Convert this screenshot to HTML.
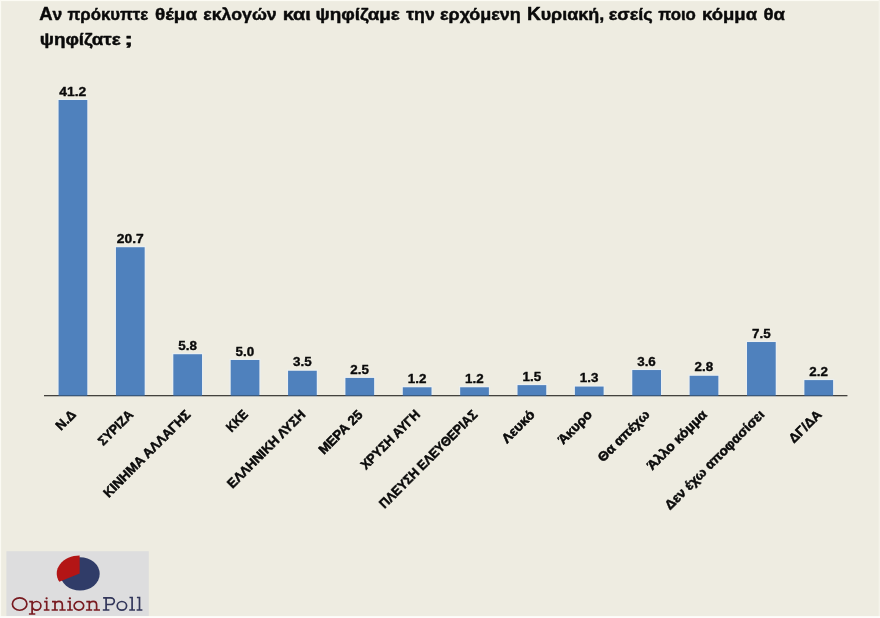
<!DOCTYPE html>
<html lang="el"><head><meta charset="utf-8"><title>OpinionPoll</title>
<style>html,body{margin:0;padding:0;background:#EEECE1;}body{width:880px;height:618px;overflow:hidden;position:relative;font-family:"Liberation Sans",sans-serif;}
svg{position:absolute;left:0;top:0;display:block;will-change:transform;opacity:0.999;filter:blur(0.4px)}text{font-family:"Liberation Sans",sans-serif;font-weight:bold;fill:#0a0a0a;stroke:#0a0a0a;stroke-width:0.36px;stroke-linejoin:round}
.xl{stroke-width:0.5px}.tt{stroke-width:0.45px}
</style></head><body>
<svg width="880" height="618" viewBox="0 0 880 618">
<rect x="0" y="0" width="880" height="618" fill="#EEECE1"/>
<text class="tt" x="39.20" y="19.5" font-size="17.4" textLength="23.12" lengthAdjust="spacingAndGlyphs"><tspan font-size="18.44">Α</tspan>ν</text>
<text class="tt" x="67.46" y="19.5" font-size="17.4" textLength="80.83" lengthAdjust="spacingAndGlyphs">πρόκυπτε</text>
<text class="tt" x="155.07" y="19.5" font-size="17.4" textLength="42.04" lengthAdjust="spacingAndGlyphs">θέμα</text>
<text class="tt" x="203.34" y="19.5" font-size="17.4" textLength="73.38" lengthAdjust="spacingAndGlyphs">εκλογών</text>
<text class="tt" x="282.69" y="19.5" font-size="17.4" textLength="28.14" lengthAdjust="spacingAndGlyphs">και</text>
<text class="tt" x="315.45" y="19.5" font-size="17.4" textLength="84.40" lengthAdjust="spacingAndGlyphs">ψηφίζαμε</text>
<text class="tt" x="406.20" y="19.5" font-size="17.4" textLength="28.53" lengthAdjust="spacingAndGlyphs">την</text>
<text class="tt" x="439.99" y="19.5" font-size="17.4" textLength="80.83" lengthAdjust="spacingAndGlyphs">ερχόμενη</text>
<text class="tt" x="526.92" y="19.5" font-size="17.4" textLength="77.32" lengthAdjust="spacingAndGlyphs"><tspan font-size="18.44">Κ</tspan>υριακή,</text>
<text class="tt" x="608.74" y="19.5" font-size="17.4" textLength="44.06" lengthAdjust="spacingAndGlyphs">εσείς</text>
<text class="tt" x="658.26" y="19.5" font-size="17.4" textLength="37.63" lengthAdjust="spacingAndGlyphs">ποιο</text>
<text class="tt" x="702.05" y="19.5" font-size="17.4" textLength="55.01" lengthAdjust="spacingAndGlyphs">κόμμα</text>
<text class="tt" x="763.46" y="19.5" font-size="17.4" textLength="21.44" lengthAdjust="spacingAndGlyphs">θα</text>
<text class="tt" x="39.70" y="45.0" font-size="17.4" textLength="80.97" lengthAdjust="spacingAndGlyphs">ψηφίζατε</text>
<text class="tt" x="124.33" y="45.0" font-size="17.4" textLength="8.88" lengthAdjust="spacingAndGlyphs">;</text>
<rect x="57.38" y="98.80" width="31.10" height="298.10" fill="#EAF0F4" opacity="0.8"/>
<rect x="114.76" y="246.03" width="31.10" height="150.87" fill="#EAF0F4" opacity="0.8"/>
<rect x="172.12" y="353.04" width="31.10" height="43.86" fill="#EAF0F4" opacity="0.8"/>
<rect x="229.50" y="358.79" width="31.10" height="38.11" fill="#EAF0F4" opacity="0.8"/>
<rect x="286.86" y="369.56" width="31.10" height="27.34" fill="#EAF0F4" opacity="0.8"/>
<rect x="344.23" y="376.75" width="31.10" height="20.15" fill="#EAF0F4" opacity="0.8"/>
<rect x="401.60" y="386.08" width="31.10" height="10.82" fill="#EAF0F4" opacity="0.8"/>
<rect x="458.97" y="386.08" width="31.10" height="10.82" fill="#EAF0F4" opacity="0.8"/>
<rect x="516.34" y="383.93" width="31.10" height="12.97" fill="#EAF0F4" opacity="0.8"/>
<rect x="573.71" y="385.36" width="31.10" height="11.54" fill="#EAF0F4" opacity="0.8"/>
<rect x="631.08" y="368.84" width="31.10" height="28.06" fill="#EAF0F4" opacity="0.8"/>
<rect x="688.45" y="374.59" width="31.10" height="22.31" fill="#EAF0F4" opacity="0.8"/>
<rect x="745.82" y="340.83" width="31.10" height="56.07" fill="#EAF0F4" opacity="0.8"/>
<rect x="803.19" y="378.90" width="31.10" height="18.00" fill="#EAF0F4" opacity="0.8"/>
<line x1="44" y1="395.5" x2="847.4" y2="395.5" stroke="#5e5c56" stroke-width="1.25"/>
<rect x="58.59" y="100.00" width="28.70" height="295.90" fill="#4F81BD"/>
<text x="72.84" y="96.40" font-size="12.7" text-anchor="middle" textLength="27" lengthAdjust="spacingAndGlyphs">41.2</text>
<text class="xl" transform="translate(76.64 415.40) rotate(-45)" x="0" y="0" font-size="13.2" text-anchor="end" textLength="22" lengthAdjust="spacingAndGlyphs">Ν.Δ</text>
<rect x="115.96" y="247.23" width="28.70" height="148.67" fill="#4F81BD"/>
<text x="130.21" y="242.83" font-size="12.7" text-anchor="middle" textLength="27" lengthAdjust="spacingAndGlyphs">20.7</text>
<text class="xl" transform="translate(134.00 415.40) rotate(-45)" x="0" y="0" font-size="13.2" text-anchor="end" textLength="43.5" lengthAdjust="spacingAndGlyphs">ΣΥΡΙΖΑ</text>
<rect x="173.32" y="354.24" width="28.70" height="41.66" fill="#4F81BD"/>
<text x="187.57" y="349.84" font-size="12.7" text-anchor="middle" textLength="18.6" lengthAdjust="spacingAndGlyphs">5.8</text>
<text class="xl" transform="translate(191.37 415.40) rotate(-45)" x="0" y="0" font-size="13.2" text-anchor="end" textLength="117" lengthAdjust="spacingAndGlyphs">ΚΙΝΗΜΑ ΑΛΛΑΓΗΣ</text>
<rect x="230.69" y="359.99" width="28.70" height="35.91" fill="#4F81BD"/>
<text x="244.94" y="355.59" font-size="12.7" text-anchor="middle" textLength="18.6" lengthAdjust="spacingAndGlyphs">5.0</text>
<text class="xl" transform="translate(248.74 415.40) rotate(-45)" x="0" y="0" font-size="13.2" text-anchor="end" textLength="24.4" lengthAdjust="spacingAndGlyphs">ΚΚΕ</text>
<rect x="288.06" y="370.76" width="28.70" height="25.14" fill="#4F81BD"/>
<text x="302.31" y="366.36" font-size="12.7" text-anchor="middle" textLength="18.6" lengthAdjust="spacingAndGlyphs">3.5</text>
<text class="xl" transform="translate(306.11 415.40) rotate(-45)" x="0" y="0" font-size="13.2" text-anchor="end" textLength="104" lengthAdjust="spacingAndGlyphs">ΕΛΛΗΝΙΚΗ ΛΥΣΗ</text>
<rect x="345.43" y="377.94" width="28.70" height="17.95" fill="#4F81BD"/>
<text x="359.68" y="373.55" font-size="12.7" text-anchor="middle" textLength="18.6" lengthAdjust="spacingAndGlyphs">2.5</text>
<text class="xl" transform="translate(363.48 415.40) rotate(-45)" x="0" y="0" font-size="13.2" text-anchor="end" textLength="56" lengthAdjust="spacingAndGlyphs">ΜΕΡΑ 25</text>
<rect x="402.80" y="387.28" width="28.70" height="8.62" fill="#4F81BD"/>
<text x="417.05" y="382.88" font-size="12.7" text-anchor="middle" textLength="18.6" lengthAdjust="spacingAndGlyphs">1.2</text>
<text class="xl" transform="translate(420.85 415.40) rotate(-45)" x="0" y="0" font-size="13.2" text-anchor="end" textLength="77.7" lengthAdjust="spacingAndGlyphs">ΧΡΥΣΗ ΑΥΓΗ</text>
<rect x="460.17" y="387.28" width="28.70" height="8.62" fill="#4F81BD"/>
<text x="474.42" y="382.88" font-size="12.7" text-anchor="middle" textLength="18.6" lengthAdjust="spacingAndGlyphs">1.2</text>
<text class="xl" transform="translate(478.22 415.40) rotate(-45)" x="0" y="0" font-size="13.2" text-anchor="end" textLength="132.4" lengthAdjust="spacingAndGlyphs">ΠΛΕΥΣΗ ΕΛΕΥΘΕΡΙΑΣ</text>
<rect x="517.54" y="385.13" width="28.70" height="10.77" fill="#4F81BD"/>
<text x="531.79" y="380.73" font-size="12.7" text-anchor="middle" textLength="18.6" lengthAdjust="spacingAndGlyphs">1.5</text>
<text class="xl" transform="translate(535.60 415.40) rotate(-45)" x="0" y="0" font-size="13.2" text-anchor="end" textLength="40.5" lengthAdjust="spacingAndGlyphs">Λευκό</text>
<rect x="574.91" y="386.56" width="28.70" height="9.34" fill="#4F81BD"/>
<text x="589.16" y="382.16" font-size="12.7" text-anchor="middle" textLength="18.6" lengthAdjust="spacingAndGlyphs">1.3</text>
<text class="xl" transform="translate(592.97 415.40) rotate(-45)" x="0" y="0" font-size="13.2" text-anchor="end" textLength="42" lengthAdjust="spacingAndGlyphs">Άκυρο</text>
<rect x="632.28" y="370.04" width="28.70" height="25.86" fill="#4F81BD"/>
<text x="646.53" y="365.64" font-size="12.7" text-anchor="middle" textLength="18.6" lengthAdjust="spacingAndGlyphs">3.6</text>
<text class="xl" transform="translate(650.34 415.40) rotate(-45)" x="0" y="0" font-size="13.2" text-anchor="end" textLength="67" lengthAdjust="spacingAndGlyphs">Θα απέχω</text>
<rect x="689.65" y="375.79" width="28.70" height="20.11" fill="#4F81BD"/>
<text x="703.90" y="371.39" font-size="12.7" text-anchor="middle" textLength="18.6" lengthAdjust="spacingAndGlyphs">2.8</text>
<text class="xl" transform="translate(707.71 415.40) rotate(-45)" x="0" y="0" font-size="13.2" text-anchor="end" textLength="78.4" lengthAdjust="spacingAndGlyphs">Άλλο κόμμα</text>
<rect x="747.02" y="342.03" width="28.70" height="53.87" fill="#4F81BD"/>
<text x="761.27" y="337.63" font-size="12.7" text-anchor="middle" textLength="18.6" lengthAdjust="spacingAndGlyphs">7.5</text>
<text class="xl" transform="translate(765.08 415.40) rotate(-45)" x="0" y="0" font-size="13.2" text-anchor="end" textLength="134.5" lengthAdjust="spacingAndGlyphs">Δεν έχω αποφασίσει</text>
<rect x="804.39" y="380.10" width="28.70" height="15.80" fill="#4F81BD"/>
<text x="818.64" y="375.70" font-size="12.7" text-anchor="middle" textLength="18.6" lengthAdjust="spacingAndGlyphs">2.2</text>
<text class="xl" transform="translate(822.45 415.40) rotate(-45)" x="0" y="0" font-size="13.2" text-anchor="end" textLength="40.2" lengthAdjust="spacingAndGlyphs">ΔΓ/ΔΑ</text>
<line x1="44" y1="395.5" x2="847.4" y2="395.5" stroke="#000" stroke-opacity="0.28" stroke-width="1.25"/>
<rect x="6.4" y="551.2" width="142.4" height="64.8" fill="#DDDDDE"/>
<ellipse cx="80" cy="573.9" rx="19.7" ry="16.7" fill="#303C68"/>
<path d="M79.6,573.5 L79.6,555.5 A22.8,18 0 0 0 59.3,581.8 Z" fill="#B31515"/>
<path d="M12.40,604.05 a7.25,6.2 0 1 0 14.5,0 a7.25,6.2 0 1 0 -14.5,0 M28.90,614.00 H35.30 M29.20,601.60 H32.10 V614.00 M32.10,605.8 a4.4,4.3 0 1 0 8.8,0 a4.4,4.3 0 1 0 -8.8,0 M43.80,610.00 H49.50 M44.10,601.60 H46.70 V610.00 M51.60,610.00 H57.90 M59.40,610.00 H65.70 M52.00,601.60 H55.00 V610.00 M55.00,604.60 C55.00,602.60 57.00,601.40 59.00,601.40 C61.20,601.40 62.30,602.60 62.30,604.80 V610.00 M67.10,610.00 H72.80 M67.40,601.60 H70.00 V610.00 M74.10,605.85 a4.80,4.35 0 1 0 9.60,0 a4.80,4.35 0 1 0 -9.60,0 M85.90,610.00 H92.20 M93.70,610.00 H100.00 M86.30,601.60 H89.30 V610.00 M89.30,604.60 C89.30,602.60 91.30,601.40 93.30,601.40 C95.50,601.40 96.60,602.60 96.60,604.80 V610.00" fill="none" stroke="#781A20" stroke-width="1.7" stroke-linecap="butt" stroke-linejoin="miter"/>
<circle cx="46.60" cy="598.30" r="1.15" fill="#781A20"/>
<circle cx="69.90" cy="598.30" r="1.15" fill="#781A20"/>
<path d="M102.80,610.00 H109.40 M106.10,597.90 V610.00 M103.10,597.90 H110.80 a3.5,3.3 0 0 1 0,6.6 H106.10 M117.20,605.85 a4.70,4.35 0 1 0 9.40,0 a4.70,4.35 0 1 0 -9.40,0 M129.20,610.00 H135.00 M129.50,597.50 H132.10 V610.00 M136.60,610.00 H142.40 M136.90,597.50 H139.50 V610.00" fill="none" stroke="#32365A" stroke-width="1.7" stroke-linecap="butt" stroke-linejoin="miter"/>
<rect x="0" y="0" width="880" height="1.1" fill="#FCFBF4"/>
<rect x="0" y="0" width="1.1" height="618" fill="#FBFAF3"/>
<rect x="878.7" y="0" width="1.3" height="618" fill="#F5F3EB"/>
<rect x="0" y="616.1" width="880" height="2" fill="#FDFDFB"/>
</svg></body></html>
